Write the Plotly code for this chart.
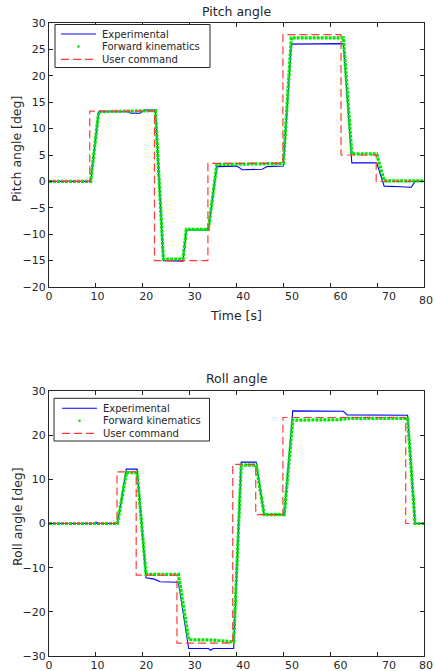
import plotly.graph_objects as go

# ---------------- data ----------------
# Pitch: user command (step values, held until next time)
pitch_cmd_t = [0, 8.7, 22.5, 33.9, 49.9, 62.3, 69.8, 79.0]
pitch_cmd_v = [0, 13.3, -15.0, 3.4, 27.8, 5.0, 0.0, 0.0]

# Pitch: experimental
pitch_exp_t = [0, 8.9, 10.6, 16.5, 17.5, 19.5, 20.3, 22.7, 24.4, 27.5, 28.6, 29.3,
               34.0, 35.8, 40.0, 40.8, 41.2, 45.5, 46.5, 50.0, 51.7, 62.8, 64.6,
               69.9, 71.5, 75.0, 77.3, 78.1, 80.0]
pitch_exp_v = [0, 0, 13.2, 13.2, 12.9, 12.9, 13.5, 13.5, -15.0, -15.1, -15.1, -9.2,
               -9.2, 2.8, 2.9, 2.5, 2.2, 2.3, 2.8, 2.9, 26.0, 26.1, 3.5,
               3.5, -0.9, -1.0, -1.1, 0.0, 0.0]

# Pitch: forward kinematics
pitch_fk_t = [0, 8.9, 10.6, 22.7, 24.4, 28.6, 29.3, 34.0, 35.8, 50.0, 51.7, 62.8, 64.6,
              69.9, 71.5, 80.0]
pitch_fk_v = [0, 0, 13.2, 13.4, -14.7, -14.7, -9.1, -9.1, 3.2, 3.4, 27.2, 27.2, 5.2,
              5.2, 0.1, 0.1]

# Roll: user command
roll_cmd_t = [0, 14.5, 18.6, 27.3, 39.2, 44.1, 49.9, 76.1, 78.0]
roll_cmd_v = [0, 11.7, -11.7, -27.1, 13.4, 2.0, 24.0, 0.0, 0.0]

# Roll: experimental
roll_exp_t = [0, 9.8, 10.0, 10.2, 14.6, 16.5, 18.8, 20.7, 22.5, 23.7, 27.6, 29.8,
              34.0, 34.5, 35.0, 39.4, 41.0, 44.2, 45.9, 50.2, 52.0, 62.8, 63.6,
              76.5, 78.1, 80.0]
roll_exp_v = [0, 0, 0.4, 0, 0, 12.3, 12.3, -12.3, -12.6, -13.2, -13.3, -28.3,
              -28.3, -28.7, -28.3, -28.3, 13.9, 13.9, 2.0, 2.0, 25.5, 25.4, 24.6,
              24.5, 0.0, 0.0]

# Roll: forward kinematics
roll_fk_t = [0, 14.6, 16.5, 18.8, 20.7, 27.6, 29.8, 35.0, 39.4, 41.0, 44.2, 45.9,
             50.2, 52.0, 62.0, 64.0, 76.5, 78.1, 80.0]
roll_fk_v = [0, 0, 11.5, 11.5, -11.5, -11.5, -26.3, -26.4, -26.8, 13.2, 13.2, 2.0,
             2.0, 23.4, 23.5, 23.8, 23.8, 0.0, 0.0]

x_ticks = [0, 10, 20, 30, 40, 50, 60, 70, 80]
pitch_ticks = [-20, -15, -10, -5, 0, 5, 10, 15, 20, 25, 30]
roll_ticks = [-30, -20, -10, 0, 10, 20, 30]
series_names = ["Experimental", "Forward kinematics", "User command"]

# ---------------- styling ----------------
W, H = 435, 671
ML, MR = 49, 11
PW = W - ML - MR
BLUE = "#0000ff"
GREEN = "#00e600"
RED = "#ff3b3b"
TXT = "#262626"
FONT = "DejaVu Sans"
LABEL_RANGE = 77.2  # tick labels in the reference are spaced slightly wider than ticks


def px_x(p):
    return (p - ML) / PW


def px_y(p):
    return (H - p) / H


fig = go.Figure()


def add_panel(xa, ya, exp_t, exp_v, fk_t, fk_v, cmd_t, cmd_v):
    fig.add_trace(go.Scatter(x=exp_t, y=exp_v, mode="lines", name=series_names[0],
                             line=dict(color=BLUE, width=1.1), xaxis=xa, yaxis=ya))
    fig.add_trace(go.Scatter(x=fk_t, y=fk_v, mode="lines", name=series_names[1],
                             line=dict(color=GREEN, width=3.2, dash="3px,1px"),
                             xaxis=xa, yaxis=ya))
    fig.add_trace(go.Scatter(x=cmd_t, y=cmd_v, mode="lines", name=series_names[2],
                             line=dict(color=RED, width=1.2, dash="8px,4px", shape="hv"),
                             xaxis=xa, yaxis=ya))


add_panel("x", "y", pitch_exp_t, pitch_exp_v, pitch_fk_t, pitch_fk_v,
          pitch_cmd_t, pitch_cmd_v)
add_panel("x2", "y2", roll_exp_t, roll_exp_v, roll_fk_t, roll_fk_v,
          roll_cmd_t, roll_cmd_v)
# carriers for the tick-label axes
fig.add_trace(go.Scatter(x=[None], y=[None], xaxis="x3", yaxis="y", showlegend=False,
                         hoverinfo="skip"))
fig.add_trace(go.Scatter(x=[None], y=[None], xaxis="x4", yaxis="y2", showlegend=False,
                         hoverinfo="skip"))

axis_common = dict(showline=True, linecolor=TXT, linewidth=1, mirror="ticks",
                   ticks="inside", ticklen=4, tickwidth=1, tickcolor=TXT,
                   showgrid=False, zeroline=False, automargin=False,
                   tickfont=dict(family=FONT, size=11, color=TXT))
label_axis = dict(showline=False, ticks="", showgrid=False, zeroline=False,
                  automargin=False, range=[0, LABEL_RANGE], tickvals=x_ticks,
                  side="bottom", ticklabelstandoff=1,
                  tickfont=dict(family=FONT, size=11, color=TXT))

# ---------------- hand-built legends (compact, as in reference) ----------------
shapes = []
annotations = []


def add_legend(x0, y0, x1, y1, line_x0, line_x1, text_x, rows):
    shapes.append(dict(type="rect", xref="paper", yref="paper",
                       x0=px_x(x0), x1=px_x(x1), y0=px_y(y1), y1=px_y(y0),
                       line=dict(color=TXT, width=1), fillcolor="white", layer="above"))
    shapes.append(dict(type="line", xref="paper", yref="paper",
                       x0=px_x(line_x0), x1=px_x(line_x1), y0=px_y(rows[0]), y1=px_y(rows[0]),
                       line=dict(color=BLUE, width=1.1), layer="above"))
    cx = (line_x0 + line_x1) / 2
    shapes.append(dict(type="circle", xref="paper", yref="paper",
                       x0=px_x(cx - 1.3), x1=px_x(cx + 1.3),
                       y0=px_y(rows[1] + 1.3), y1=px_y(rows[1] - 1.3),
                       line=dict(width=0), fillcolor=GREEN, layer="above"))
    shapes.append(dict(type="line", xref="paper", yref="paper",
                       x0=px_x(line_x0), x1=px_x(line_x1), y0=px_y(rows[2]), y1=px_y(rows[2]),
                       line=dict(color=RED, width=1.2, dash="8px,4px"), layer="above"))
    for name, ry in zip(series_names, rows):
        annotations.append(dict(text=name, x=px_x(text_x), y=px_y(ry), xref="paper",
                                yref="paper", showarrow=False, xanchor="left",
                                yanchor="middle",
                                font=dict(family=FONT, size=10, color=TXT)))


add_legend(55, 24.5, 210, 67.5, 61, 96, 99.5, [34.0, 46.5, 59.3])
add_legend(54, 398.3, 209.5, 441, 62, 97, 100.5, [408.3, 420.7, 433.3])

# last tick label ("80"), kept inside the right edge of the page
for ly in (300.5, 665.5):
    annotations.append(dict(text=str(x_ticks[-1]), x=px_x(434.5), y=px_y(ly),
                            xref="paper", yref="paper", showarrow=False,
                            xanchor="right", yanchor="middle",
                            font=dict(family=FONT, size=11, color=TXT)))

# titles
annotations += [
    dict(text="Pitch angle", x=0.5, y=px_y(12), xref="paper", yref="paper",
         showarrow=False, font=dict(family=FONT, size=12.5, color=TXT),
         xanchor="center", yanchor="middle"),
    dict(text="Roll angle", x=0.5, y=px_y(379), xref="paper", yref="paper",
         showarrow=False, font=dict(family=FONT, size=12.5, color=TXT),
         xanchor="center", yanchor="middle"),
    dict(text="Time [s]", x=px_x(236), y=px_y(315), xref="paper", yref="paper",
         showarrow=False, font=dict(family=FONT, size=12.5, color=TXT),
         xanchor="center", yanchor="middle"),
    dict(text="Pitch angle [deg]", x=px_x(17), y=px_y(149), xref="paper", yref="paper",
         showarrow=False, textangle=-90, font=dict(family=FONT, size=12.5, color=TXT),
         xanchor="center", yanchor="middle"),
    dict(text="Roll angle [deg]", x=px_x(17), y=px_y(517), xref="paper", yref="paper",
         showarrow=False, textangle=-90, font=dict(family=FONT, size=12.5, color=TXT),
         xanchor="center", yanchor="middle"),
]

fig.update_layout(
    width=W, height=H,
    margin=dict(l=ML, r=MR, t=0, b=0),
    paper_bgcolor="white", plot_bgcolor="white",
    font=dict(family=FONT, color=TXT),
    showlegend=False,
    xaxis=dict(domain=[0, 1], range=[0, 80], tickvals=x_ticks, anchor="y",
               showticklabels=False, **axis_common),
    yaxis=dict(domain=[px_y(287), px_y(23)], range=[-20, 30], tickvals=pitch_ticks,
               anchor="x", **axis_common),
    xaxis2=dict(domain=[0, 1], range=[0, 80], tickvals=x_ticks, anchor="y2",
                showticklabels=False, **axis_common),
    yaxis2=dict(domain=[px_y(656), px_y(391)], range=[-30, 30], tickvals=roll_ticks,
                anchor="x2", **axis_common),
    xaxis3=dict(overlaying="x", anchor="y", **label_axis),
    xaxis4=dict(overlaying="x2", anchor="y2", **label_axis),
    shapes=shapes,
    annotations=annotations,
)

fig.write_html("out.html")
